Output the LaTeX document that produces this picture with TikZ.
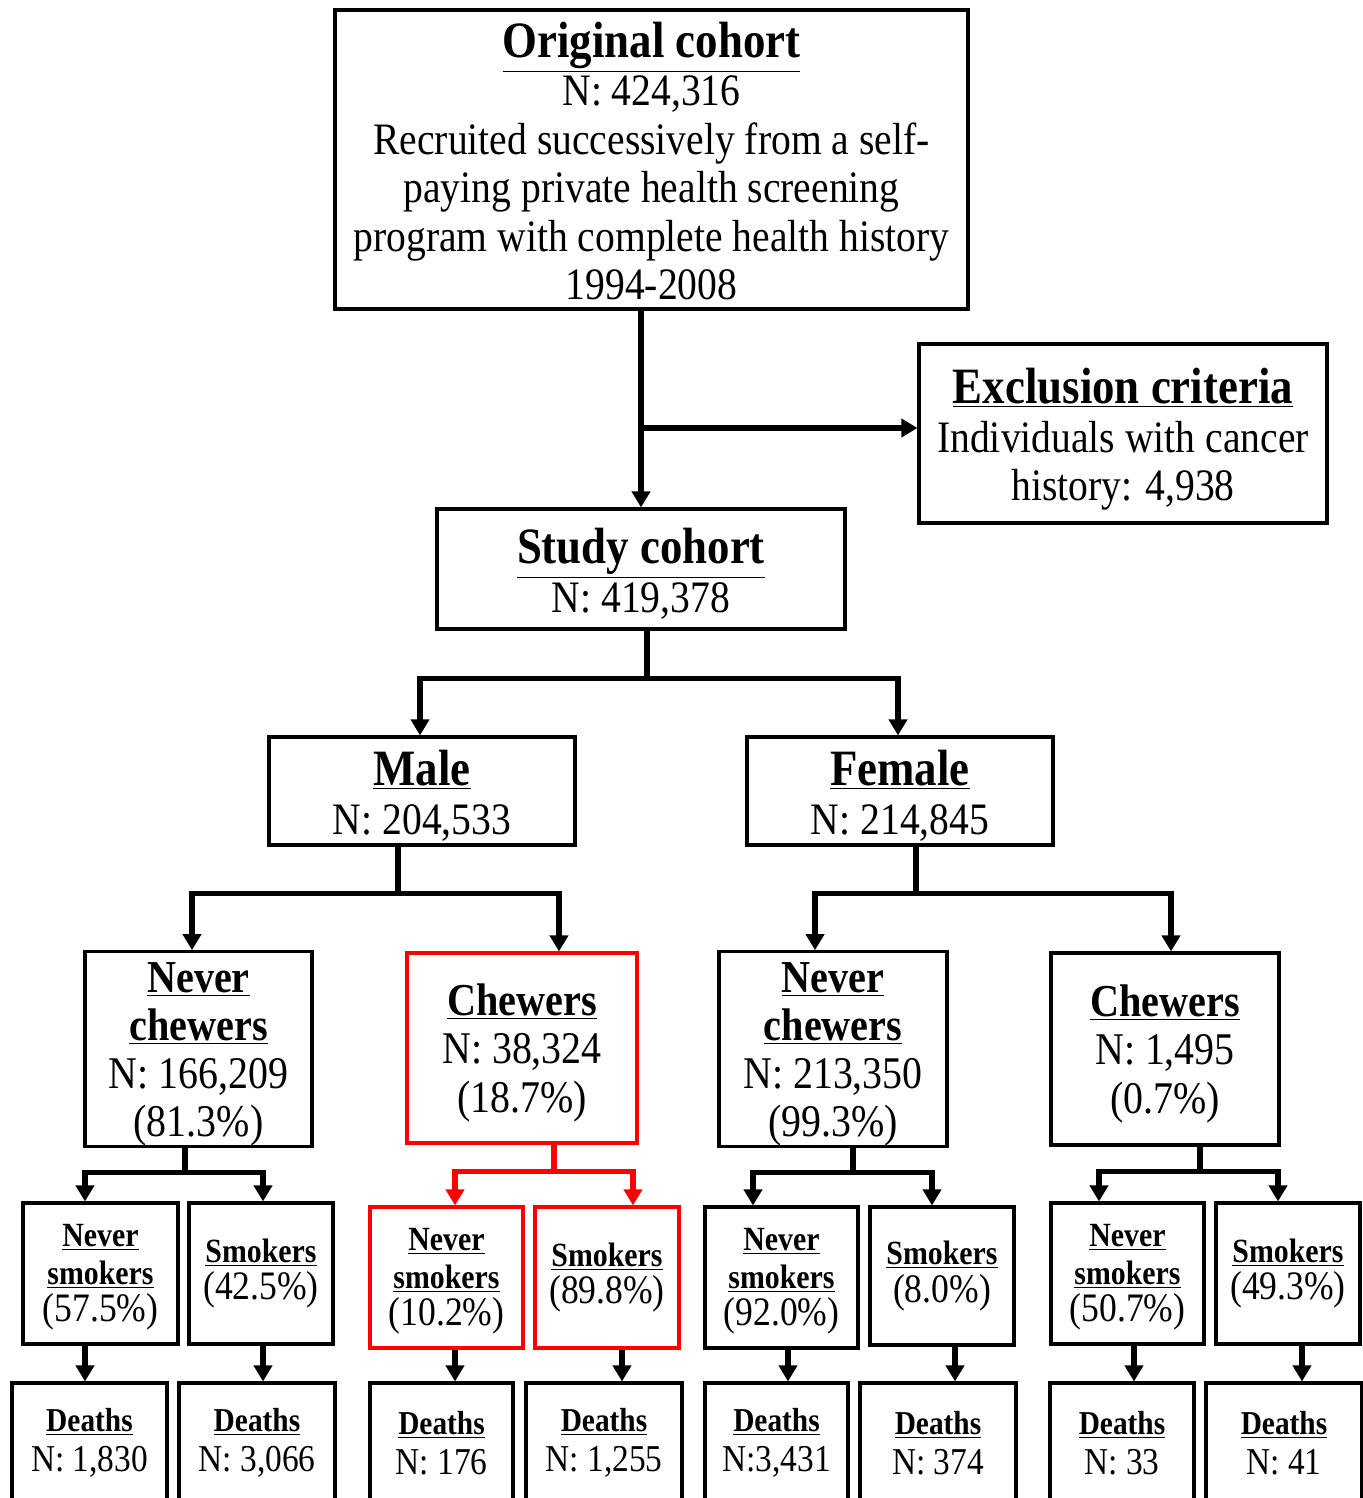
\documentclass[tikz,border=0pt]{standalone}
\usepackage{fontspec}
\setmainfont{Liberation Serif}[FakeStretch=0.88]
\usetikzlibrary{arrows.meta}
\newcommand{\hd}[2]{{\fontsize{#1}{#1}\selectfont\bfseries\underline{#2}}}

\begin{document}
\begin{tikzpicture}[
  box/.style={draw, line width=1.8pt, align=center, inner sep=0pt},
  redbox/.style={box, draw=red},
  arr/.style={line width=2.9pt, -{Triangle[length=0.32cm,width=0.36cm]}},
  big/.style={font=\fontsize{25.6}{27.6}\selectfont},
  mid/.style={font=\fontsize{25.8}{27.4}\selectfont},
  small/.style={font=\fontsize{23}{21.3}\selectfont},
  tiny/.style={font=\fontsize{21.6}{23}\selectfont}
]
\useasboundingbox (0,0) rectangle (27.24,-29.96);

% Whole cohort and exclusion
\node[box, big, minimum width=12.66cm, minimum height=5.98cm] (orig) at (13.03,-3.19) {
    \rule{0pt}{22pt}\hd{29}{Original cohort}\\
    N: 424,316\\
    Recruited successively from a self-\\
    paying private health screening\\
    program with complete health history\\
    1994-2008
};
\node[box, big, minimum width=8.16cm, minimum height=3.58cm] (excl) at (22.46,-8.67) {
    \rule{0pt}{26.6pt}\hd{29}{Exclusion criteria}\\
    Individuals with cancer\\
    history: 4,938
};
\node[box, big, minimum width=8.16cm, minimum height=2.4cm] (study) at (12.82,-11.38) {
    \rule{0pt}{25.4pt}\hd{29}{Study cohort}\\
    N: 419,378
};

% Sex
\node[box, big, minimum width=6.12cm, minimum height=2.16cm] (male) at (8.44,-15.82) {
    \rule{0pt}{25.4pt}\hd{29}{Male}\\
    N: 204,533
};
\node[box, big, minimum width=6.12cm, minimum height=2.16cm] (female) at (18.0,-15.82) {
    \rule{0pt}{25.4pt}\hd{29}{Female}\\
    N: 214,845
};

% Chewing status
\node[box, mid, minimum width=4.54cm, minimum height=3.84cm] (mnc) at (3.97,-20.98) {
    \rule{0pt}{23pt}\hd{26}{Never}\\
    \hd{26}{chewers}\\
    N: 166,209\\
    (81.3\%)
};
\node[redbox, mid, minimum width=4.6cm, minimum height=3.8cm] (mch) at (10.44,-20.96) {
    \rule{0pt}{23.6pt}\hd{26}{Chewers}\\
    N: 38,324\\
    (18.7\%)
};
\node[box, mid, minimum width=4.56cm, minimum height=3.84cm] (fnc) at (16.66,-20.98) {
    \rule{0pt}{23pt}\hd{26}{Never}\\
    \hd{26}{chewers}\\
    N: 213,350\\
    (99.3\%)
};
\node[box, mid, minimum width=4.56cm, minimum height=3.84cm] (fch) at (23.30,-20.98) {
    \rule{0pt}{23.6pt}\hd{26}{Chewers}\\
    N: 1,495\\
    (0.7\%)
};

% Smoking status
\node[box, small, minimum width=3.1cm, minimum height=2.82cm] (mns) at (2.01,-25.47) {
    \rule{0pt}{17pt}\hd{19.3}{Never}\\ \hd{19.3}{smokers}\\ (57.5\%)};
\node[box, small, minimum width=2.88cm, minimum height=2.82cm] (msm) at (5.22,-25.47) {
    \hd{19.3}{Smokers}\\ (42.5\%)};
\node[redbox, small, minimum width=3.06cm, minimum height=2.82cm] (cns) at (8.93,-25.55) {
    \rule{0pt}{17pt}\hd{19.3}{Never}\\ \hd{19.3}{smokers}\\ (10.2\%)};
\node[redbox, small, minimum width=2.88cm, minimum height=2.82cm] (csm) at (12.14,-25.55) {
    \hd{19.3}{Smokers}\\ (89.8\%)};
\node[box, small, minimum width=3.06cm, minimum height=2.82cm] (fns) at (15.63,-25.55) {
    \rule{0pt}{17pt}\hd{19.3}{Never}\\ \hd{19.3}{smokers}\\ (92.0\%)};
\node[box, small, minimum width=2.88cm, minimum height=2.76cm] (fsm) at (18.84,-25.52) {
    \hd{19.3}{Smokers}\\ (8.0\%)};
\node[box, small, minimum width=3.06cm, minimum height=2.82cm] (hns) at (22.55,-25.47) {
    \rule{0pt}{17pt}\hd{19.3}{Never}\\ \hd{19.3}{smokers}\\ (50.7\%)};
\node[box, small, minimum width=2.88cm, minimum height=2.82cm] (hsm) at (25.76,-25.47) {
    \hd{19.3}{Smokers}\\ (49.3\%)};

% Deaths
\node[box, tiny, minimum width=3.1cm, minimum height=2.4cm] (d1) at (1.79,-28.86) {\hd{19}{Deaths}\\ N: 1,830};
\node[box, tiny, minimum width=3.12cm, minimum height=2.4cm] (d2) at (5.14,-28.86) {\hd{19}{Deaths}\\ N: 3,066};
\node[box, tiny, minimum width=2.86cm, minimum height=2.4cm] (d3) at (8.83,-28.86) {\hd{19}{Deaths}\\ N: 176};
\node[box, tiny, minimum width=3.12cm, minimum height=2.4cm] (d4) at (12.08,-28.86) {\hd{19}{Deaths}\\ N: 1,255};
\node[box, tiny, minimum width=2.86cm, minimum height=2.4cm] (d5) at (15.53,-28.86) {\hd{19}{Deaths}\\ N:3,431};
\node[box, tiny, minimum width=3.12cm, minimum height=2.4cm] (d6) at (18.76,-28.86) {\hd{19}{Deaths}\\ N: 374};
\node[box, tiny, minimum width=2.88cm, minimum height=2.4cm] (d7) at (22.44,-28.86) {\hd{19}{Deaths}\\ N: 33};
\node[box, tiny, minimum width=3.12cm, minimum height=2.4cm] (d8) at (25.68,-28.86) {\hd{19}{Deaths}\\ N: 41};

% Flow
\draw[arr] (orig.south -| study.north) -- (study.north);
\coordinate (split) at (study.north |- 0,-8.56);
\draw[arr] (split) -- (split -| excl.west);

\draw[arr] ([xshift=1.2mm]study.south) -- ++(0,-0.96) -| ([xshift=-0.4mm]male.north);
\draw[arr] ([xshift=1.2mm]study.south) -- ++(0,-0.96) -| ([xshift=-0.4mm]female.north);

\draw[arr] ([xshift=-4.8mm]male.south) -- ++(0,-0.94) -| ([xshift=-1.3mm]mnc.north);
\draw[arr] ([xshift=-4.8mm]male.south) -- ++(0,-0.94) -| ([xshift=7.4mm]mch.north);
\draw[arr] ([xshift=3.2mm]female.south) -- ++(0,-0.94) -| ([xshift=-3.6mm]fnc.north);
\draw[arr] ([xshift=3.2mm]female.south) -- ++(0,-0.94) -| ([xshift=1.2mm]fch.north);

\draw[arr] ([xshift=-2.7mm]mnc.south) -- ++(0,-0.5) -| ([xshift=-3.1mm]mns.north);
\draw[arr] ([xshift=-2.7mm]mnc.south) -- ++(0,-0.5) -| ([xshift=0.4mm]msm.north);
\draw[arr, red] ([xshift=6.4mm]mch.south) -- ++(0,-0.54) -| ([xshift=1.7mm]cns.north);
\draw[arr, red] ([xshift=6.4mm]mch.south) -- ++(0,-0.54) -| ([xshift=5.2mm]csm.north);
\draw[arr] ([xshift=4mm]fnc.south) -- ++(0,-0.5) -| ([xshift=-5.7mm]fns.north);
\draw[arr] ([xshift=4mm]fnc.south) -- ++(0,-0.5) -| ([xshift=-2mm]fsm.north);
\draw[arr] ([xshift=7mm]fch.south) -- ++(0,-0.5) -| ([xshift=-5.7mm]hns.north);
\draw[arr] ([xshift=7mm]fch.south) -- ++(0,-0.5) -| ([xshift=-2mm]hsm.north);

\foreach \a/\b/\s in {mns/d1/-3.1, msm/d2/0.4, cns/d3/1.7, csm/d4/3, fns/d5/1.3, fsm/d6/2.6, hns/d7/1.3, hsm/d8/2.8}
  \draw[arr] ([xshift=\s mm]\a.south) -- ([xshift=\s mm]\a.south |- \b.north);

\end{tikzpicture}
\end{document}
